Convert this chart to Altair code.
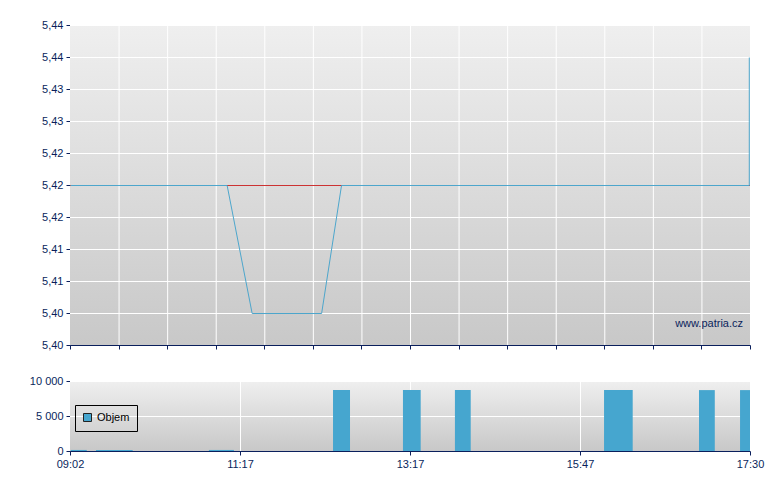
import altair as alt
import pandas as pd

# ---- data -------------------------------------------------------------
# price line, x = position along the session axis (0 = 09:02, 28 = 17:30)
line_x = [0, 6.45, 7.48, 10.34, 11.16, 27.95, 27.95]
line_y = [5.42, 5.42, 5.404, 5.404, 5.42, 5.42, 5.436]
ref_price = [5.42]

# volume bars (start / end positions on the same axis)
vol_start = [0.03, 1.07, 5.72, 10.83, 13.71, 15.85, 21.99, 25.90, 27.59]
vol_end = [0.69, 2.58, 6.75, 11.53, 14.44, 16.50, 23.17, 26.55, 28.0]
vol_val = [150, 150, 150, 8700, 8700, 8700, 8700, 8700, 8700]

price_ticks = [5.400, 5.404, 5.408, 5.412, 5.416, 5.420, 5.424, 5.428, 5.432, 5.436, 5.440]
top_x_ticks = [0, 2, 4, 6, 8, 10, 12, 14, 16, 18, 20, 22, 24, 26, 28]
vol_ticks = [0, 5000, 10000]
time_tick_pos = [0, 7, 14, 21, 28]
time_labels = ["09:02", "11:17", "13:17", "15:47", "17:30"]

# ---- style ------------------------------------------------------------
FONT = "Liberation Sans"
NAVY = "#0a1f5c"
BLUE = "#46a6cf"
LINE = "#4da6cc"
RED = "#cc3333"
W, H1, H2 = 680, 320, 70
EXT = 45

grad = alt.Gradient(
    gradient="linear",
    stops=[alt.GradientStop(color="#efefef", offset=0),
           alt.GradientStop(color="#c8c8c8", offset=1)],
    x1=0, x2=0, y1=0, y2=1,
)

xs = alt.Scale(domain=[0, 28], nice=False, zero=False)
ys1 = alt.Scale(domain=[5.40, 5.44], nice=False, zero=False)
ys2 = alt.Scale(domain=[0, 10000], nice=False)

ax_top_x = alt.Axis(values=top_x_ticks, labels=False, tickSize=4, grid=False, title=None,
                    tickColor=NAVY, domainColor=NAVY)
ax_top_y = alt.Axis(values=price_ticks, labelExpr="replace(format(datum.value, '.2f'), '.', ',')",
                    tickSize=4, grid=False, title=None, labelFlush=False,
                    tickColor=NAVY, domainColor=NAVY, minExtent=EXT, maxExtent=EXT)
labels_js = "[" + ",".join("'%s'" % t for t in time_labels) + "]"
pos_js = "[" + ",".join(str(p) for p in time_tick_pos) + "]"
ax_bot_x = alt.Axis(values=time_tick_pos, labelExpr=f"{labels_js}[indexof({pos_js}, datum.value)]",
                    tickSize=4, grid=False, title=None, labelFlush=False,
                    tickColor=NAVY, domainColor=NAVY)
ax_bot_y = alt.Axis(values=vol_ticks, labelExpr="replace(format(datum.value, ','), ',', ' ')",
                    tickSize=4, grid=False, title=None, labelFlush=False,
                    tickColor=NAVY, domainColor=NAVY, minExtent=EXT, maxExtent=EXT)


def background(h):
    return alt.Chart(alt.Data(values=[{}])).mark_rect(color=grad).encode(
        x=alt.value(0), x2=alt.value(W), y=alt.value(0), y2=alt.value(h))


# ---- top panel --------------------------------------------------------
vgrid1 = alt.Chart(pd.DataFrame({"x": top_x_ticks[1:]})).mark_rule(
    color="white", strokeWidth=1, xOffset=0.5).encode(
    x=alt.X("x:Q", scale=xs, axis=ax_top_x))
hgrid1 = alt.Chart(pd.DataFrame({"y": price_ticks[1:]})).mark_rule(
    color="white", strokeWidth=1, yOffset=0.5).encode(
    y=alt.Y("y:Q", scale=ys1, axis=ax_top_y))
ref = alt.Chart(pd.DataFrame({"y": ref_price})).mark_rule(
    color=RED, strokeWidth=1, yOffset=0.5).encode(
    y=alt.Y("y:Q", scale=ys1, axis=ax_top_y))
price = alt.Chart(pd.DataFrame({"x": line_x, "y": line_y, "o": list(range(len(line_x)))})).mark_line(
    color=LINE, strokeWidth=1, xOffset=0.5, yOffset=0.5).encode(
    x=alt.X("x:Q", scale=xs, axis=ax_top_x),
    y=alt.Y("y:Q", scale=ys1, axis=ax_top_y),
    order="o:Q")
mark_txt = alt.Chart(alt.Data(values=[{}])).mark_text(
    text="www.patria.cz", align="right", baseline="middle", fontSize=11, font=FONT, color=NAVY
).encode(x=alt.value(673), y=alt.value(299))

top = alt.layer(background(H1), vgrid1, hgrid1, ref, price, mark_txt).properties(width=W, height=H1)

# ---- bottom panel -----------------------------------------------------
vgrid2 = alt.Chart(pd.DataFrame({"x": time_tick_pos[1:]})).mark_rule(
    color="white", strokeWidth=1, xOffset=0.5).encode(
    x=alt.X("x:Q", scale=xs, axis=ax_bot_x))
hgrid2 = alt.Chart(pd.DataFrame({"y": vol_ticks[1:]})).mark_rule(
    color="white", strokeWidth=1, yOffset=0.5).encode(
    y=alt.Y("y:Q", scale=ys2, axis=ax_bot_y))
bars = alt.Chart(pd.DataFrame({"s": vol_start, "e": vol_end, "v": vol_val,
                               "k": ["Objem"] * len(vol_val)})).mark_rect().encode(
    x=alt.X("s:Q", scale=xs, axis=ax_bot_x),
    x2="e:Q",
    y=alt.Y("v:Q", scale=ys2, axis=ax_bot_y),
    y2=alt.datum(0),
    color=alt.Color("k:N", scale=alt.Scale(domain=["Objem"], range=[BLUE]),
                    legend=alt.Legend(orient="none", legendX=5, legendY=380, title=None,
                                      strokeColor="black", padding=7, symbolType="square",
                                      symbolSize=64, symbolStrokeColor="#222", symbolStrokeWidth=1,
                                      labelFontSize=11, labelColor="black", labelFont=FONT,
                                      cornerRadius=0)),
)

bottom = alt.layer(background(H2), vgrid2, hgrid2, bars).properties(width=W, height=H2)

chart = alt.vconcat(top, bottom, spacing=25).properties(
    padding={"left": 17, "top": 11, "right": 5, "bottom": 5},
    background="white",
).configure_view(stroke=None).configure_axis(
    labelFont=FONT, labelFontSize=11, labelColor=NAVY, labelPadding=3,
)

chart.save("out.html", embed_options={"renderer": "svg", "actions": False})
